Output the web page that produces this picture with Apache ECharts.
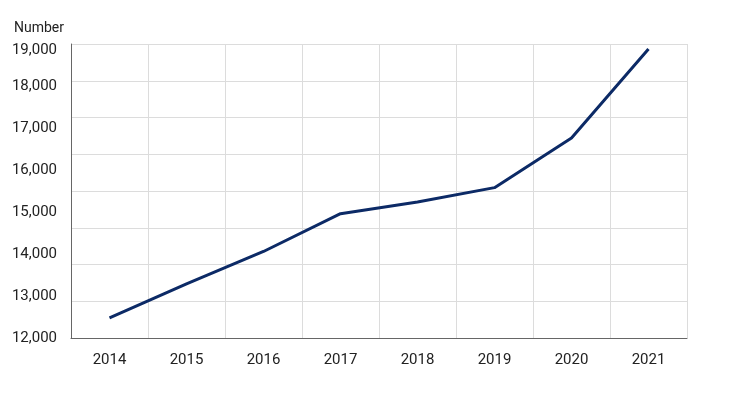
<!DOCTYPE html>
<html>
<head>
<meta charset="utf-8">
<script src="https://cdn.jsdelivr.net/npm/echarts@6/dist/echarts.min.js"></script>
<style>html,body{margin:0;padding:0;background:#fff;}#c{width:737px;height:395px;}</style>
</head>
<body>
<div id="c"></div>
<script>
const years = ['2014','2015','2016','2017','2018','2019','2020','2021'];
const values = [12480, 13290, 14060, 14960, 15240, 15580, 16760, 18880];
const yTicks = [12000, 13000, 14000, 15000, 16000, 17000, 18000, 19000];

const chart = echarts.init(document.getElementById('c'));
const font = 'Roboto, "Liberation Sans", sans-serif';
const yMax = yTicks[yTicks.length-1];
chart.setOption({
  animation: false,
  title: {text: 'Number', left: 14, top: 21, padding: 0, textStyle: {fontSize: 14, fontWeight: 'normal', color: '#222', fontFamily: font}},
  grid: {left: 71, right: 50, top: 44, bottom: 57},
  xAxis: {
    type: 'category', data: years, boundaryGap: true,
    axisLine: {lineStyle: {color: '#666', width: 1}},
    axisTick: {show: false},
    axisLabel: {color: '#222', fontSize: 15, margin: 15, fontFamily: font},
    splitLine: {show: true, lineStyle: {color: '#dcdcdc'}}
  },
  yAxis: [{
    type: 'value', min: yTicks[0], max: yMax, interval: 1000,
    axisLine: {show: true, lineStyle: {color: '#666', width: 1}},
    axisTick: {show: false},
    splitLine: {show: false},
    axisLabel: {color: '#222', fontSize: 15, margin: 14, fontFamily: font,
      formatter: v => v === yMax ? '{t|' + v.toLocaleString('en-US') + '}' : v.toLocaleString('en-US'),
      rich: {t: {fontSize: 15, color: '#222', fontFamily: font, padding: [12, 0, 0, 0]}}}
  }, {
    type: 'value', min: 0, max: 8, interval: 1, position: 'left',
    axisLine: {show: false}, axisTick: {show: false}, axisLabel: {show: false},
    splitLine: {show: true, lineStyle: {color: '#dcdcdc'}}
  }],
  series: [{
    type: 'line', data: values, yAxisIndex: 0, symbol: 'none', z: 5,
    lineStyle: {color: '#0c2a66', width: 3}
  }]
});
</script>
</body>
</html>
